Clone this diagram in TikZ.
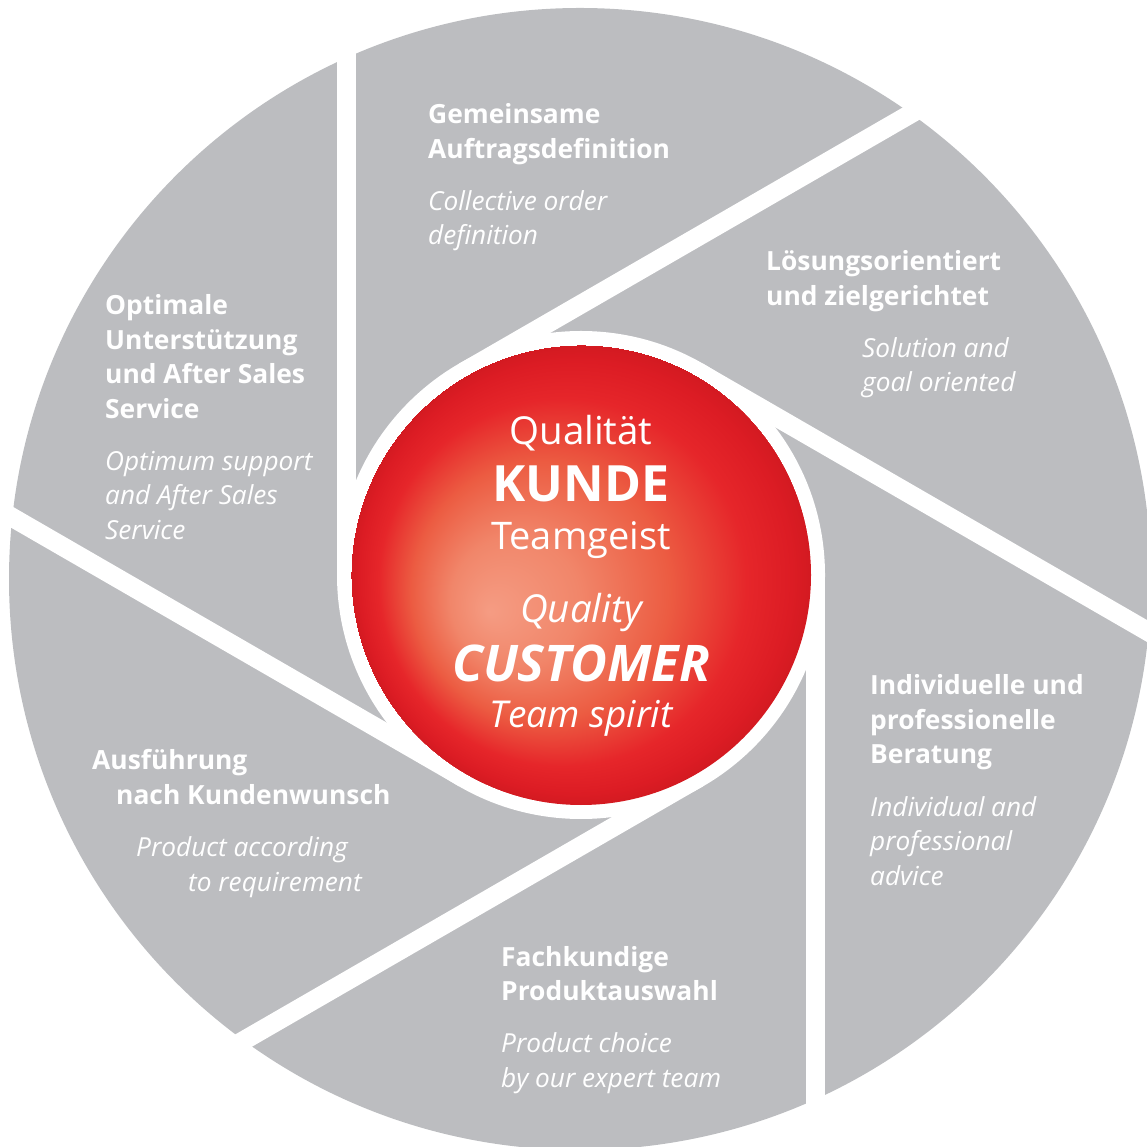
\documentclass[tikz,border=0pt]{standalone}
\usepackage{fontspec}
\setmainfont{Open Sans}
\usetikzlibrary{calc}
\definecolor{seggrey}{HTML}{BCBDC0}
\definecolor{ballA}{HTML}{F59C83}
\definecolor{ballB}{HTML}{F1866A}
\definecolor{ballC}{HTML}{EC5C42}
\definecolor{ballD}{HTML}{E6262A}
\definecolor{ballE}{HTML}{DC1C24}
\definecolor{ballF}{HTML}{D31A21}
\pgfdeclareradialshading{redball}{\pgfpoint{-10bp}{-4bp}}{color(0bp)=(ballA); color(7bp)=(ballB); color(14bp)=(ballC); color(20bp)=(ballD); color(23.5bp)=(ballE); color(25bp)=(ballF)}
\tikzset{
  ttl/.style={anchor=base west, inner sep=0pt, text=white, font=\bfseries\fontsize{26.4}{26.4}\selectfont},
  sub/.style={anchor=base west, inner sep=0pt, text=white, font=\itshape\fontsize{26.2}{26.2}\selectfont},
  ctr/.style={anchor=base, inner sep=0pt, text=white}
}
\begin{document}
\begin{tikzpicture}[x=1pt,y=1pt]
\useasboundingbox (0,0) rectangle (1147,1146);
\clip (0,0) rectangle (1147,1146);
\coordinate (O) at (580,567);
\coordinate (C) at (581,571);
\fill[seggrey] (O) circle (571);
\begin{scope}[shift={(581,571)}]
\foreach \a in {0,60,...,300}
  \fill[white, rotate=\a] (225,0) rectangle (244,-700);
\end{scope}
\fill[white] (C) circle (244);
\shade[shading=redball] (C) circle (230);

% centre
\node[ctr, font=\fontsize{38.5}{38.5}\selectfont] (c1) at (581,701) {Qualität};
\node[ctr, font=\bfseries\fontsize{50}{50}\selectfont] (c2) at (581,644) {KUNDE};
\node[ctr, font=\fontsize{38}{38}\selectfont] (c3) at (581,596) {Teamgeist};
\node[ctr, font=\itshape\fontsize{38.5}{38.5}\selectfont] (c4) at (581,523.5) {Quality};
\node[ctr, font=\bfseries\itshape\fontsize{50.5}{50.5}\selectfont] (c5) at (581,464) {CUSTOMER};
\node[ctr, font=\itshape\fontsize{37}{37}\selectfont] (c6) at (581,418) {Team spirit};

% top
\node[ttl] (a1) at (428,1022) {Gemeinsame};
\node[ttl] (a2) at (428,987.5) {Auftragsdefinition};
\node[sub] (a3) at (428,935.5) {Collective order};
\node[sub] (a4) at (428,901) {definition};
% upper right
\node[ttl] (b1) at (766,875) {Lösungsorientiert};
\node[ttl] (b2) at (766,840.5) {und zielgerichtet};
\node[sub] (b3) at (862,788.5) {Solution and};
\node[sub] (b4) at (862,754) {goal oriented};
% right
\node[ttl] (d1) at (870,451) {Individuelle und};
\node[ttl] (d2) at (870,416.5) {professionelle};
\node[ttl] (d3) at (870,382) {Beratung};
\node[sub] (d4) at (870,330) {Individual and};
\node[sub] (d5) at (870,295.5) {professional};
\node[sub] (d6) at (870,261) {advice};
% bottom
\node[ttl] (e1) at (501,180) {Fachkundige};
\node[ttl] (e2) at (501,145.5) {Produktauswahl};
\node[sub] (e3) at (501,93.5) {Product choice};
\node[sub] (e4) at (501,59) {by our expert team};
% lower left
\node[ttl] (f1) at (92,376) {Ausführung};
\node[ttl] (f2) at (116,341.5) {nach Kundenwunsch};
\node[sub] (f3) at (136,289.5) {Product according};
\node[sub] (f4) at (188,255) {to requirement};
% upper left
\node[ttl] (g1) at (105,831) {Optimale};
\node[ttl] (g2) at (105,796.5) {Unterstützung};
\node[ttl] (g3) at (105,762) {und After Sales};
\node[ttl] (g4) at (105,727.5) {Service};
\node[sub] (g5) at (105,675.5) {Optimum support};
\node[sub] (g6) at (105,641) {and After Sales};
\node[sub] (g7) at (105,606.5) {Service};
\end{tikzpicture}
\end{document}
